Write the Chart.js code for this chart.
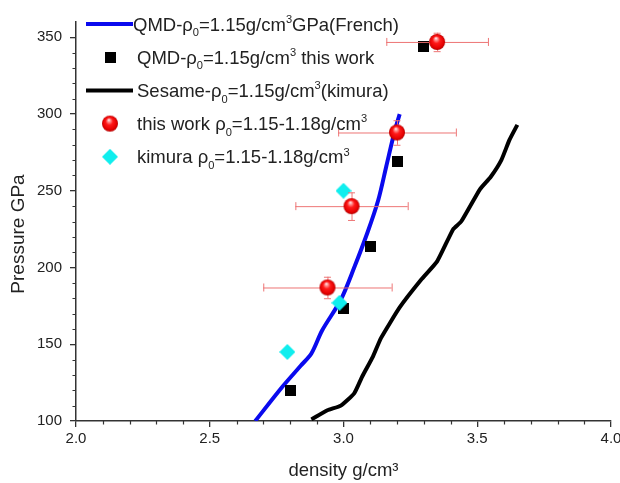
<!DOCTYPE html>
<html>
<head>
<meta charset="utf-8">
<script src="https://cdn.jsdelivr.net/npm/chart.js"></script>
<style>
  html, body { margin: 0; padding: 0; background: #fff; }
  canvas { display: block; }
</style>
</head>
<body>
<canvas id="chart" width="620" height="483"></canvas>
<script>
// ---- data ----
const frenchX = [2.67, 2.77, 2.84, 2.88, 2.92, 2.99, 3.04, 3.09, 3.13, 3.16, 3.19, 3.21];
const frenchY = [100, 122, 136, 144, 159, 179, 200, 223, 244, 266, 288, 300];

const sesameX = [2.88, 2.94, 2.99, 3.04, 3.07, 3.11, 3.14, 3.21, 3.29, 3.35, 3.41, 3.44, 3.51, 3.55, 3.59, 3.62, 3.65];
const sesameY = [101, 107, 110, 118, 129, 142, 154, 174, 192, 204, 225, 230, 251, 259, 270, 283, 293];

const qmdX = [2.80, 3.00, 3.10, 3.20, 3.30];
const qmdY = [120, 173, 214, 269, 344];

const expX    = [2.94, 3.03, 3.20, 3.35];
const expY    = [187, 240, 288, 347];
const expXErr = [0.24, 0.21, 0.22, 0.19];
const expYErr = [7, 9, 8, 6];

const kimX = [2.79, 2.985, 3.00];
const kimY = [145, 177, 250];

const xTicks = [2.0, 2.5, 3.0, 3.5, 4.0];
const yTicks = [100, 150, 200, 250, 300, 350];

// legend labels: _x = subscript, ^x = superscript
const seriesNames = [
  'QMD-ρ_0=1.15g/cm^3GPa(French)',
  'QMD-ρ_0=1.15g/cm^3 this work',
  'Sesame-ρ_0=1.15g/cm^3(kimura)',
  'this work ρ_0=1.15-1.18g/cm^3',
  'kimura ρ_0=1.15-1.18g/cm^3'
];
const yTitle = 'Pressure GPa';
const xTitle = 'density g/cm³';

const FONT = '"Liberation Sans", Arial, Helvetica, sans-serif';
const BLUE = '#0a0aee';
const INK = '#222';

const zip = (xs, ys) => xs.map((x, i) => ({ x, y: ys[i] }));

// ---- marker images ----
function makeSphere(r) {
  const c = document.createElement('canvas');
  c.width = c.height = r * 2 + 2;
  const g = c.getContext('2d');
  const cx = r + 1, cy = r + 1;
  const grad = g.createRadialGradient(cx - r * 0.15, cy - r * 0.5, 0, cx, cy, r);
  grad.addColorStop(0, '#ffffff');
  grad.addColorStop(0.18, '#ff9a9a');
  grad.addColorStop(0.45, '#ff1a1a');
  grad.addColorStop(0.85, '#e40000');
  grad.addColorStop(1, '#b00000');
  g.fillStyle = grad;
  g.beginPath(); g.arc(cx, cy, r, 0, Math.PI * 2); g.fill();
  return c;
}
function makeSquare(side, color) {
  const c = document.createElement('canvas');
  c.width = c.height = side;
  const g = c.getContext('2d');
  g.fillStyle = color; g.fillRect(0, 0, side, side);
  return c;
}
function makeDiamond(h, color) {
  const c = document.createElement('canvas');
  c.width = c.height = h * 2;
  const g = c.getContext('2d');
  g.fillStyle = color;
  g.beginPath(); g.moveTo(h, 0); g.lineTo(2 * h, h); g.lineTo(h, 2 * h); g.lineTo(0, h); g.closePath(); g.fill();
  return c;
}
const sphereImg  = makeSphere(8);
const squareImg  = makeSquare(11, '#000');
const diamondImg = makeDiamond(8, '#10eeee');

// ---- plugins ----
const errorBars = {
  id: 'errorBars',
  beforeDatasetDraw(chart, args) {
    if (args.index !== 0) return;
    const { ctx, scales: { x, y } } = chart;
    ctx.save();
    ctx.strokeStyle = 'rgba(236,110,110,0.95)';
    ctx.lineWidth = 1;
    ctx.beginPath();
    expX.forEach((v, i) => {
      const px = x.getPixelForValue(v), py = y.getPixelForValue(expY[i]);
      const x0 = x.getPixelForValue(v - expXErr[i]), x1 = x.getPixelForValue(v + expXErr[i]);
      const y0 = y.getPixelForValue(expY[i] - expYErr[i]), y1 = y.getPixelForValue(expY[i] + expYErr[i]);
      ctx.moveTo(x0, py + 0.5); ctx.lineTo(x1, py + 0.5);
      ctx.moveTo(x0 + 0.5, py - 4); ctx.lineTo(x0 + 0.5, py + 4);
      ctx.moveTo(x1 + 0.5, py - 4); ctx.lineTo(x1 + 0.5, py + 4);
      ctx.moveTo(px + 0.5, y0); ctx.lineTo(px + 0.5, y1);
      ctx.moveTo(px - 3.5, y0 + 0.5); ctx.lineTo(px + 3.5, y0 + 0.5);
      ctx.moveTo(px - 3.5, y1 + 0.5); ctx.lineTo(px + 3.5, y1 + 0.5);
    });
    ctx.stroke();
    ctx.restore();
  }
};

const minorTicks = {
  id: 'minorTicks',
  afterDraw(chart) {
    const { ctx, scales: { x, y } } = chart;
    ctx.save();
    ctx.strokeStyle = '#333';
    ctx.lineWidth = 1.2;
    ctx.beginPath();
    for (let k = 1; k < 20; k++) {
      if (k % 5 === 0) continue;
      const px = Math.round(x.getPixelForValue(2 + k * 0.1)) + 0.5;
      ctx.moveTo(px, y.bottom); ctx.lineTo(px, y.bottom + 3.5);
    }
    for (let k = 1; k < 26; k++) {
      if (k % 5 === 0) continue;
      const py = Math.round(y.getPixelForValue(100 + k * 10)) + 0.5;
      ctx.moveTo(x.left, py); ctx.lineTo(x.left - 3.5, py);
    }
    ctx.stroke();
    // y axis title, a bit below the middle as in the original
    ctx.fillStyle = INK;
    ctx.font = '19px ' + FONT;
    ctx.textAlign = 'center';
    ctx.textBaseline = 'middle';
    ctx.translate(18.5, 234);
    ctx.rotate(-Math.PI / 2);
    ctx.fillText(yTitle, 0, 0);
    ctx.restore();
  }
};

function richText(ctx, str, x, baseline, fs) {
  let cx = x;
  for (let i = 0; i < str.length; i++) {
    let ch = str[i], size = fs, dy = 0;
    if ((ch === '_' || ch === '^') && i + 1 < str.length) {
      dy = ch === '_' ? fs * 0.3 : -fs * 0.42;
      size = fs * 0.6;
      ch = str[++i];
    }
    ctx.font = size + 'px ' + FONT;
    ctx.fillText(ch, cx, baseline + dy);
    cx += ctx.measureText(ch).width;
  }
}

const insideLegend = {
  id: 'insideLegend',
  afterDraw(chart) {
    const { ctx } = chart;
    const rows = [
      { kind: 'line', color: BLUE },
      { kind: 'img', img: squareImg },
      { kind: 'line', color: '#000' },
      { kind: 'img', img: sphereImg },
      { kind: 'img', img: diamondImg }
    ];
    const fs = 18.5, top = 24, step = 33.2;
    ctx.save();
    rows.forEach((r, i) => {
      const cy = top + i * step;
      if (r.kind === 'line') {
        ctx.strokeStyle = r.color; ctx.lineWidth = 4;
        ctx.beginPath(); ctx.moveTo(86, cy); ctx.lineTo(133, cy); ctx.stroke();
      } else {
        ctx.drawImage(r.img, 110 - r.img.width / 2, cy - r.img.height / 2);
      }
      ctx.fillStyle = INK;
      ctx.textBaseline = 'alphabetic';
      richText(ctx, seriesNames[i], i === 0 ? 133 : 137, cy + fs * 0.36, fs);
    });
    ctx.restore();
  }
};

// ---- chart ----
new Chart(document.getElementById('chart'), {
  type: 'scatter',
  data: {
    datasets: [
      { label: seriesNames[3], data: zip(expX, expY), pointStyle: sphereImg, pointRadius: 8, pointHoverRadius: 8 },
      { label: seriesNames[4], data: zip(kimX, kimY), pointStyle: diamondImg, pointRadius: 8, pointHoverRadius: 8 },
      { label: seriesNames[1], data: zip(qmdX, qmdY), pointStyle: squareImg, pointRadius: 6, pointHoverRadius: 6 },
      { label: seriesNames[0], data: zip(frenchX, frenchY), showLine: true, borderColor: BLUE, borderWidth: 4, pointRadius: 0, tension: 0.3 },
      { label: seriesNames[2], data: zip(sesameX, sesameY), showLine: true, borderColor: '#000', borderWidth: 4, pointRadius: 0, tension: 0.15 }
    ]
  },
  options: {
    responsive: false,
    animation: false,
    devicePixelRatio: 1,
    layout: { padding: { top: 22, right: 8, left: 0, bottom: 0 } },
    plugins: { legend: { display: false }, tooltip: { enabled: false } },
    scales: {
      x: {
        type: 'linear', min: 2, max: 4,
        afterBuildTicks: s => { s.ticks = xTicks.map(v => ({ value: v })); },
        afterFit: s => { s.height = 62; s.paddingLeft = 0; s.paddingRight = 0; },
        ticks: { color: INK, font: { family: FONT, size: 15 }, padding: 3, maxRotation: 0, callback: v => v.toFixed(1) },
        grid: { drawOnChartArea: false, drawTicks: true, tickLength: 6, color: '#333', lineWidth: 1.3 },
        border: { color: '#333', width: 1.5 },
        title: { display: true, text: xTitle, color: INK, font: { family: FONT, size: 18.5 }, padding: { top: 0, bottom: 1 } }
      },
      y: {
        type: 'linear', min: 100, max: 360,
        afterBuildTicks: s => { s.ticks = yTicks.map(v => ({ value: v })); },
        afterFit: s => { s.width = 76; s.paddingTop = 0; s.paddingBottom = 0; },
        ticks: { color: INK, font: { family: FONT, size: 15 }, padding: 8 },
        grid: { drawOnChartArea: false, drawTicks: true, tickLength: 6, color: '#333', lineWidth: 1.3 },
        border: { color: '#333', width: 1.5 },
        title: { display: false }
      }
    }
  },
  plugins: [errorBars, minorTicks, insideLegend]
});
</script>
</body>
</html>
